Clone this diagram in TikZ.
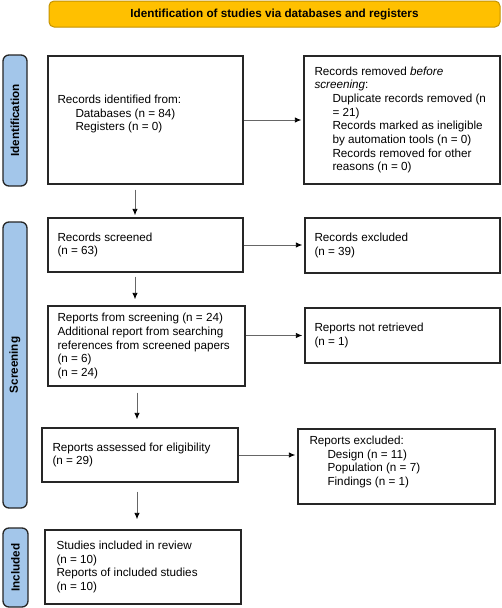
\documentclass[tikz,border=0pt]{standalone}
\usepackage{fontspec}
\setmainfont{Liberation Sans}
\usetikzlibrary{arrows.meta,calc}
\definecolor{bannerfill}{HTML}{FFC000}
\definecolor{bannerdark}{HTML}{C49200}
\definecolor{phaseblue}{HTML}{A3C6EA}
\begin{document}
\begin{tikzpicture}[x=1pt,y=-1pt,
  every node/.style={font=\fontsize{11.7}{13.7}\selectfont},
  box/.style={draw=black!85, line width=1.4pt, rectangle, inner sep=0pt},
  txt/.style={anchor=west, align=left, inner sep=0pt},
  phase/.style={draw=black!85, line width=1.3pt, fill=phaseblue, rounded corners=6pt, inner sep=0pt},
  banner/.style={draw=bannerdark, fill=bannerfill, line width=1pt, rounded corners=5pt, inner sep=0pt},
  arr/.style={draw=black!60, line width=0.9pt, -{Latex[length=6.5pt,width=5.5pt,color=black]}}]
\useasboundingbox[fill=white] (0,0) rectangle (501,608);
\newcommand{\ii}{\hspace*{18pt}}

% banner
\node[banner, minimum width=451pt, minimum height=26pt] (ban) at (274.5,14) {\bfseries Identification of studies via databases and registers};

% phase bars
\node[phase, minimum width=24pt, minimum height=131pt] (p1) at (15,120.5) {};
\node[rotate=90, font=\fontsize{11.7}{13.7}\selectfont\bfseries] (p1t) at (p1.center) {Identification};
\node[phase, minimum width=24pt, minimum height=286pt] (p2) at (15,365) {};
\node[rotate=90, font=\fontsize{11.7}{13.7}\selectfont\bfseries] (p2t) at (p2.center) {Screening};
\node[phase, minimum width=25pt, minimum height=79pt] (p3) at (15.5,567.5) {};
\node[rotate=90, font=\fontsize{11.7}{13.7}\selectfont\bfseries] (p3t) at (p3.center) {Included};

% boxes
\node[box, minimum width=195pt, minimum height=128pt] (b1) at (145.5,120) {};
\node[txt] (t1) at ([xshift=10pt,yshift=6pt]b1.west) {Records identified from:\\\ii Databases (n = 84)\\\ii Registers (n = 0)};

\node[box, minimum width=196pt, minimum height=128pt] (b2) at (402,120) {};
\node[txt] (t2) at ([xshift=11pt]b2.west) {Records removed \textit{before}\\\textit{screening}:\\\ii Duplicate records removed (n\\\ii = 21)\\\ii Records marked as ineligible\\\ii by automation tools (n = 0)\\\ii Records removed for other\\\ii reasons (n = 0)};

\node[box, minimum width=195pt, minimum height=54pt] (b3) at (145.5,245) {};
\node[txt] (t3) at ([xshift=10pt]b3.west) {Records screened\\(n = 63)};

\node[box, minimum width=195pt, minimum height=55pt] (b4) at (402.5,245.5) {};
\node[txt] (t4) at ([xshift=10pt]b4.west) {Records excluded\\(n = 39)};

\node[box, minimum width=197pt, minimum height=80pt] (b5) at (146.5,346) {};
\node[txt] (t5) at ([xshift=10pt]b5.west) {Reports from screening (n = 24)\\Additional report from searching\\references from screened papers\\(n = 6)\\(n = 24)};

\node[box, minimum width=195pt, minimum height=55pt] (b6) at (402.5,335.5) {};
\node[txt] (t6) at ([xshift=10pt]b6.west) {Reports not retrieved\\(n = 1)};

\node[box, minimum width=196pt, minimum height=54pt] (b7) at (140,455) {};
\node[txt] (t7) at ([xshift=11pt]b7.west) {Reports assessed for eligibility\\(n = 29)};

\node[box, minimum width=197pt, minimum height=75pt] (b8) at (396.5,466.5) {};
\node[txt] (t8) at ([xshift=12pt,yshift=4.5pt]b8.west) {Reports excluded:\\\ii Design (n = 11)\\\ii Population (n = 7)\\\ii Findings (n = 1)};

\node[box, minimum width=196pt, minimum height=74pt] (b9) at (143,567) {};
\node[txt] (t9) at ([xshift=12pt]b9.west) {Studies included in review\\(n = 10)\\Reports of included studies\\(n = 10)};

% column coordinates for vertical arrows
\coordinate (ca) at (135,0);
\coordinate (cb) at (137,0);

% horizontal arrows
\draw[arr, shorten >=2pt] (b1.east) -- (b2.west);
\draw[arr, shorten >=2pt] (b3.east) -- (b3.east -| b4.west);
\draw[arr, shorten >=2pt] (b5.east |- b6.west) -- (b6.west);
\draw[arr, shorten >=2pt] (b7.east) -- (b7.east -| b8.west);

% vertical arrows
\draw[arr, shorten <=5pt, shorten >=2pt] (b1.south -| ca) -- (b3.north -| ca);
\draw[arr, shorten <=4pt, shorten >=6pt] (b3.south -| ca) -- (b5.north -| ca);
\draw[arr, shorten <=6pt, shorten >=8pt] (b5.south -| cb) -- (b7.north -| cb);
\draw[arr, shorten <=9pt, shorten >=10pt] (b7.south -| cb) -- (b9.north -| cb);
\end{tikzpicture}
\end{document}
